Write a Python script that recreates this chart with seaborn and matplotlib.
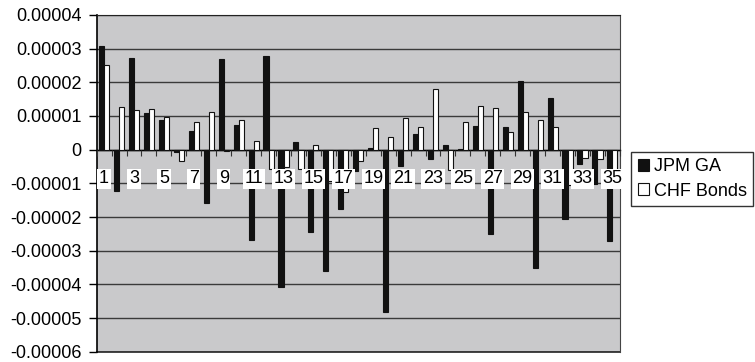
import numpy as np
import pandas as pd
import matplotlib
matplotlib.use("Agg")
import matplotlib.pyplot as plt
import seaborn as sns
from matplotlib.ticker import FuncFormatter, FixedLocator

# values (units of 1e-5)
periods = list(range(1, 36))
jpm_ga = [3.07, -1.23, 2.73, 1.10, 0.87, -0.06, 0.55, -1.57, 2.70, 0.74,
          -2.68, 2.77, -4.07, 0.24, -2.43, -3.60, -1.75, -0.64, 0.06, -4.81,
          -0.49, 0.47, -0.27, 0.15, 0.02, 0.70, -2.50, 0.68, 2.03, -3.52,
          1.54, -2.05, -0.42, -1.01, -2.71]
chf_bonds = [2.50, 1.27, 1.17, 1.22, 0.97, -0.35, 0.81, 1.11, -0.05, 0.89,
             0.25, -0.57, -0.50, -0.57, 0.13, -0.93, -1.27, -0.33, 0.65, 0.39,
             0.93, 0.68, 1.81, -0.61, 0.82, 1.30, 1.25, 0.52, 1.13, 0.87,
             0.68, -1.05, -0.26, -0.27, -0.90]
series_names = ["JPM GA", "CHF Bonds"]
y_ticks = [-0.00006, -0.00005, -0.00004, -0.00003, -0.00002, -0.00001,
           0, 0.00001, 0.00002, 0.00003, 0.00004]


def main():
    df = pd.DataFrame({
        "period": [str(p) for p in periods] * 2,
        "value": np.array(jpm_ga + chf_bonds) * 1e-5,
        "series": [series_names[0]] * 35 + [series_names[1]] * 35,
    })

    plt.rcParams['font.family'] = ['Liberation Sans', 'DejaVu Sans']
    fig = plt.figure(figsize=(7.55, 3.62), dpi=100)
    ax = fig.add_axes([0.128, 0.028, 0.693, 0.931])
    ax.set_facecolor('#c9c9cb')

    sns.barplot(data=df, x="period", y="value", hue="series",
                order=[str(p) for p in periods], hue_order=series_names,
                palette={"JPM GA": "#111111", "CHF Bonds": "white"},
                width=0.68, edgecolor="#111111", linewidth=0.8,
                saturation=1, errorbar=None, ax=ax, zorder=3)

    ax.set_ylim(-0.00006, 0.00004)
    ax.set_xlim(-0.5, 34.5)
    ax.set_yticks(y_ticks)
    ax.yaxis.set_major_formatter(FuncFormatter(
        lambda v, _: "0" if abs(v) < 1e-12 else f"{v:.5f}"))
    ax.yaxis.grid(True, color='#3a3a3a', linewidth=1.0, zorder=1)
    ax.set_axisbelow(True)
    ax.axhline(y_ticks[0], color='#222222', linewidth=1.2, clip_on=False, zorder=2)
    ax.tick_params(axis='y', labelsize=13, length=6, width=1, pad=5, color='black')

    # category axis at zero, labels on odd periods, drawn above the bars
    ax.spines['bottom'].set_position(('data', 0))
    ax.spines['bottom'].set_linewidth(1.0)
    ax.spines['left'].set_linewidth(1.2)
    ax.spines['top'].set_color('#222222')
    ax.spines['right'].set_color('#444444')
    ax.set_xticks([i for i in range(0, 35, 2)])
    ax.set_xticklabels([str(p) for p in periods[::2]])
    ax.xaxis.set_minor_locator(FixedLocator(np.arange(-0.5, 35, 1)))
    ax.tick_params(axis='x', which='major', length=0, pad=15, labelsize=13)
    ax.tick_params(axis='x', which='minor', length=4, width=0.8, color='#333333')
    for lbl in ax.get_xticklabels():
        lbl.set_bbox(dict(facecolor='white', edgecolor='none', pad=1.2))
    ax.xaxis.set_zorder(5)

    ax.set_xlabel("")
    ax.set_ylabel("")

    leg = ax.legend(loc='center left', bbox_to_anchor=(1.022, 0.513),
                    fontsize=13, frameon=True, fancybox=False,
                    handlelength=0.65, handleheight=0.65, handletextpad=0.25,
                    borderpad=0.35, labelspacing=0.4, borderaxespad=0)
    leg.get_frame().set_edgecolor('black')
    leg.get_frame().set_linewidth(1.0)
    leg.set_title(None)

    fig.savefig("out.png", dpi=100)


if __name__ == "__main__":
    main()
